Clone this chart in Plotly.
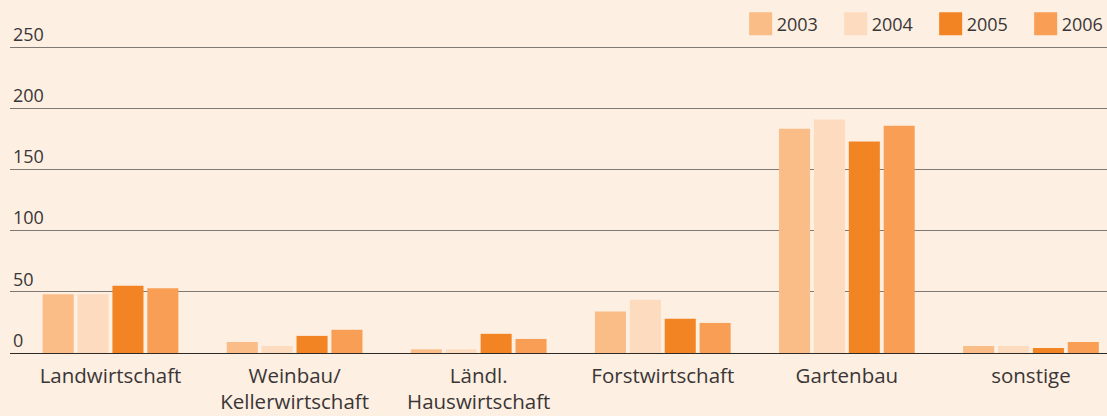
import plotly.graph_objects as go

categories = ["Landwirtschaft", "Weinbau/<br>Kellerwirtschaft", "Ländl.<br>Hauswirtschaft",
              "Forstwirtschaft", "Gartenbau", "sonstige"]
years = ["2003", "2004", "2005", "2006"]
v2003 = [48, 9, 3, 34, 183.5, 5.7]
v2004 = [48, 5.7, 3, 43.5, 191, 5.7]
v2005 = [55, 14, 15.7, 28, 173, 4.1]
v2006 = [53, 19, 11.5, 24.6, 186, 9]
y_ticks = [0, 50, 100, 150, 200, 250]

colors = ["#FABD87", "#FDDBBE", "#F38424", "#F99F55"]
series = [v2003, v2004, v2005, v2006]

BG = "#FDEFE2"
TXT = "#3a3636"
FONT = "Open Sans"

fig = go.Figure()
for name, vals, col in zip(years, series, colors):
    fig.add_trace(go.Bar(x=categories, y=vals, name=name,
                         marker=dict(color=col, line=dict(width=0))))

fig.update_layout(
    width=1107, height=416,
    paper_bgcolor=BG, plot_bgcolor=BG,
    margin=dict(l=10, r=0, t=23, b=63, autoexpand=False),
    barmode="group", bargap=0.242, bargroupgap=0.11,
    font=dict(family=FONT, size=18, color=TXT),
    showlegend=True,
    legend=dict(orientation="h", x=1.0088, xanchor="right", y=0.997, yanchor="middle",
                bgcolor="rgba(0,0,0,0)", font=dict(size=18, color=TXT),
                entrywidth=50, entrywidthmode="pixels", traceorder="normal"),
)
fig.update_xaxes(type="category", range=[-0.546, 5.413], showgrid=False,
                 showline=False, zeroline=False, ticks="", ticklabelstandoff=8,
                 tickfont=dict(size=20.5, color=TXT, family=FONT))
fig.update_yaxes(range=[0, 270], tickvals=y_ticks, showgrid=True,
                 gridcolor="#807873", gridwidth=1.4,
                 zeroline=True, zerolinecolor="#2e2a28", zerolinewidth=1.4,
                 showline=False, ticks="", ticklabelposition="inside top",
                 ticklabeloverflow="allow",
                 tickfont=dict(size=18, color=TXT, family=FONT))

post = (
    "document.body.style.margin='0';"
    "document.body.style.background='" + BG + "';"
    "document.querySelectorAll('.legendpoints path').forEach(function(p){"
    "p.setAttribute('d','M15.5,11.5H-7.5V-11.5H15.5Z');});"
)
fig.write_html("out.html", post_script=post, config={"displayModeBar": False})
